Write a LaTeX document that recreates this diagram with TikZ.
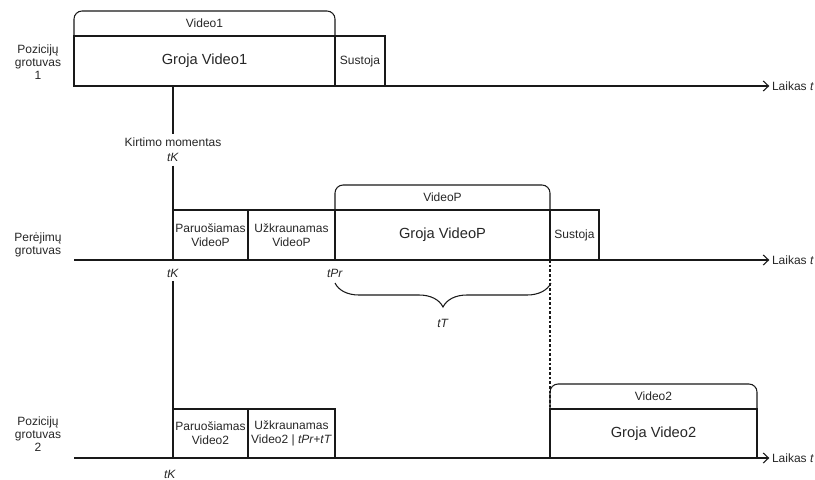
\documentclass[tikz,border=0pt]{standalone}
\usepackage{fontspec}
\setmainfont{Liberation Sans}
\usetikzlibrary{arrows.meta,decorations.pathreplacing}
\begin{document}
\begin{tikzpicture}[x=0.75pt,y=-0.75pt,
  every node/.style={inner sep=0pt, outer sep=0pt, text=black!85},
  small/.style={font=\fontsize{9}{10.5}\selectfont, align=center},
  big/.style={font=\fontsize{11}{13}\selectfont},
  line/.style={line width=0.8pt, draw=black!90},
  cell/.style 2 args={draw=black!90, line width=0.8pt, anchor=north west,
    minimum width=#1*0.75pt, minimum height=#2*0.75pt, small},
  head/.style={anchor=south west, minimum width=#1*0.75pt,
    minimum height=25*0.75pt, small},
  lane/.style={line width=0.8pt, draw=black!90, rounded corners=6pt},
  axis/.style={line width=0.8pt, draw=black!90,
    -{Straight Barb[length=4pt,width=7.5pt]}},
  timelbl/.style={anchor=west, small},
]
\useasboundingbox (0,0) rectangle (815,479);

% ---------- player 1 ----------
\node[small, font=\fontsize{9}{10}\selectfont] (p1) at (38,62) {Pozicijų\\grotuvas\\1};
\node[cell={261}{50}, big] (g1) at (74,36) {Groja Video1};
\node[cell={50}{50}] (s1) at (335,36) {Sustoja};
\node[head={261}] (h1) at (74,36) {Video1};
\draw[lane] (h1.south west) |- (h1.north) -| (h1.south east);
\node[timelbl] (l1) at (772,86) {Laikas \textit{t}};
\draw[axis] (g1.south west) -- ([xshift=-2pt]l1.west);

% ---------- cut moment ----------
\node[small, font=\fontsize{9}{11}\selectfont] (k) at (173,150) {Kirtimo momentas\\\textit{tK}};
\draw[line] (k.north |- g1.south) -- ([yshift=3pt]k.north);

% ---------- transition player ----------
\node[small, font=\fontsize{9}{10}\selectfont] (p2) at (38,245) {Perėjimų\\grotuvas};
\node[cell={75}{50}] (pa) at (173,210) {Paruošiamas\\VideoP};
\node[cell={87}{50}] (ua) at (248,210) {Užkraunamas\\VideoP};
\node[cell={215}{50}, big] (gp) at (335,210) {Groja VideoP};
\node[cell={49}{50}] (sp) at (550,210) {Sustoja};
\node[head={215}] (hp) at (335,210) {VideoP};
\draw[lane] (hp.south west) |- (hp.north) -| (hp.south east);
\draw[line] ([yshift=-3pt]k.south) -- (pa.north west);
\coordinate (a2) at (74,260);
\node[timelbl] (l2) at (772,260) {Laikas \textit{t}};
\draw[axis] (a2) -- ([xshift=-2pt]l2.west);
\node[small] (tk2) at (173,273) {\textit{tK}};
\node[small] (tpr) at (335,273) {\textit{tPr}};

% transition length brace
\coordinate (b1) at (335,283);
\coordinate (b2) at (551,283);
\draw[line, decorate, decoration={brace, mirror, amplitude=18pt}] (b1) -- (b2);
\node[small] (tt) at (443,323) {\textit{tT}};

% ---------- player 2 ----------
\node[small, font=\fontsize{9}{10}\selectfont] (p3) at (38,434) {Pozicijų\\grotuvas\\2};
\node[cell={75}{49}] (pb) at (173,409) {Paruošiamas\\Video2};
\node[cell={87}{49}] (ub) at (248,409) {Užkraunamas\\Video2 | \textit{tPr+tT}};
\node[cell={207}{49}, big] (g2) at (550,409) {Groja Video2};
\node[head={207}] (h2) at (550,409) {Video2};
\draw[lane] (h2.south west) |- (h2.north) -| (h2.south east);
\draw[line] ([yshift=-3pt]tk2.south) -- (pb.north west);
\draw[line, dash pattern=on 2pt off 1.5pt] (gp.south east) -- (g2.south west);
\coordinate (a3) at (74,458);
\node[timelbl] (l3) at (772,458) {Laikas \textit{t}};
\draw[axis] (a3) -- ([xshift=-2pt]l3.west);
\node[small] (tk3) at (170,474) {\textit{tK}};
\end{tikzpicture}
\end{document}
